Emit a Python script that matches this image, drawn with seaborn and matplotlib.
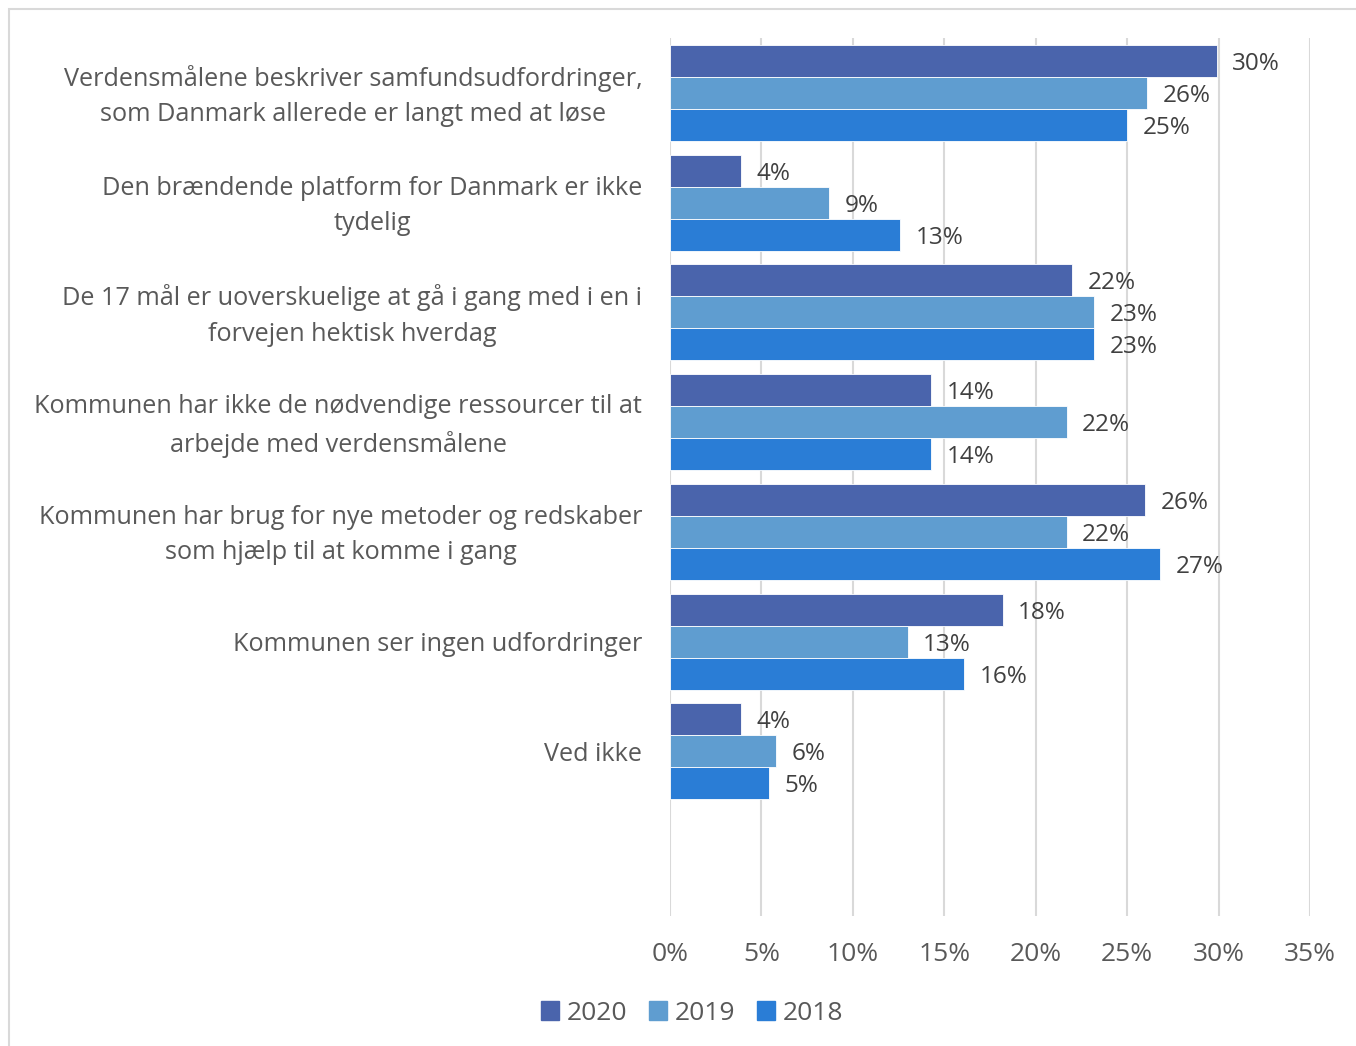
import pandas as pd
import seaborn as sns
import matplotlib.pyplot as plt
import matplotlib.transforms as mtransforms
from matplotlib.patches import Rectangle

categories = [
    "Verdensmålene beskriver samfundsudfordringer,\nsom Danmark allerede er langt med at løse",
    "Den brændende platform for Danmark er ikke\ntydelig",
    "De 17 mål er uoverskuelige at gå i gang med i en i\nforvejen hektisk hverdag",
    "Kommunen har ikke de nødvendige ressourcer til at\narbejde med verdensmålene",
    "Kommunen har brug for nye metoder og redskaber\nsom hjælp til at komme i gang",
    "Kommunen ser ingen udfordringer",
    "Ved ikke",
]
years = ["2020", "2019", "2018"]
values_2020 = [29.9, 3.9, 22.0, 14.3, 26.0, 18.2, 3.9]
values_2019 = [26.1, 8.7, 23.2, 21.7, 21.7, 13.0, 5.8]
values_2018 = [25.0, 12.6, 23.2, 14.3, 26.8, 16.1, 5.4]
colors = ["#4A64AC", "#5F9DD0", "#2A7DD6"]

df = pd.DataFrame({
    "category": categories * 3,
    "year": [y for y in years for _ in categories],
    "value": values_2020 + values_2019 + values_2018,
})

sns.set_theme(style="white")
plt.rcParams["font.family"] = ["Open Sans", "DejaVu Sans"]

fig = plt.figure(figsize=(13.56, 10.46), dpi=100)
ax = fig.add_axes([670 / 1356, 1 - 916 / 1046, 640 / 1356, 878 / 1046])

sns.barplot(data=df, y="category", x="value", hue="year", hue_order=years,
            palette=colors, saturation=1, width=0.873, orient="h", ax=ax,
            edgecolor="white", linewidth=0.6, legend=False)

for cont in ax.containers:
    labels = ax.bar_label(cont, fmt=lambda v: f"{v:.0f}%", padding=11,
                          fontsize=17.5, color="#404040")
    for t in labels:
        t.set_va("center_baseline")

ax.set_xlim(0, 35)
ax.set_ylim(7.5, -0.5)
ax.set_xticks(range(0, 36, 5))
ax.set_xticklabels([f"{t}%" for t in range(0, 36, 5)])
ax.xaxis.grid(True, color="#D9D9D9", linewidth=1.5)
ax.set_axisbelow(True)
for s in ax.spines.values():
    s.set_visible(False)
ax.tick_params(axis="x", length=0, pad=19, labelsize=19, labelcolor="#595959")
ax.tick_params(axis="y", length=0, pad=20, labelsize=18.2, labelcolor="#595959")
shift_up = mtransforms.ScaledTranslation(0, 5 / 100, fig.dpi_scale_trans)
for lbl in ax.get_yticklabels():
    lbl.set_multialignment("center")
    lbl.set_linespacing(1.55)
    if "\n" in lbl.get_text():
        lbl.set_transform(lbl.get_transform() + shift_up)
ax.set_xlabel("")
ax.set_ylabel("")

handles = [Rectangle((0, 0), 1, 1, color=c) for c in colors]
fig.legend(handles, years, loc="center", bbox_to_anchor=(692 / 1356, 1 - 1013 / 1046),
           ncol=3, frameon=False, fontsize=19, labelcolor="#595959",
           handlelength=0.7, handleheight=0.7, handletextpad=0.3, columnspacing=0.8)

fig.patches.append(Rectangle((9 / 1356, -0.01), 1.0, 1 - 9 / 1046 + 0.01,
                             transform=fig.transFigure, fill=False,
                             edgecolor="#D9D9D9", linewidth=1.5))

fig.savefig("out.png", dpi=100, facecolor="white")
